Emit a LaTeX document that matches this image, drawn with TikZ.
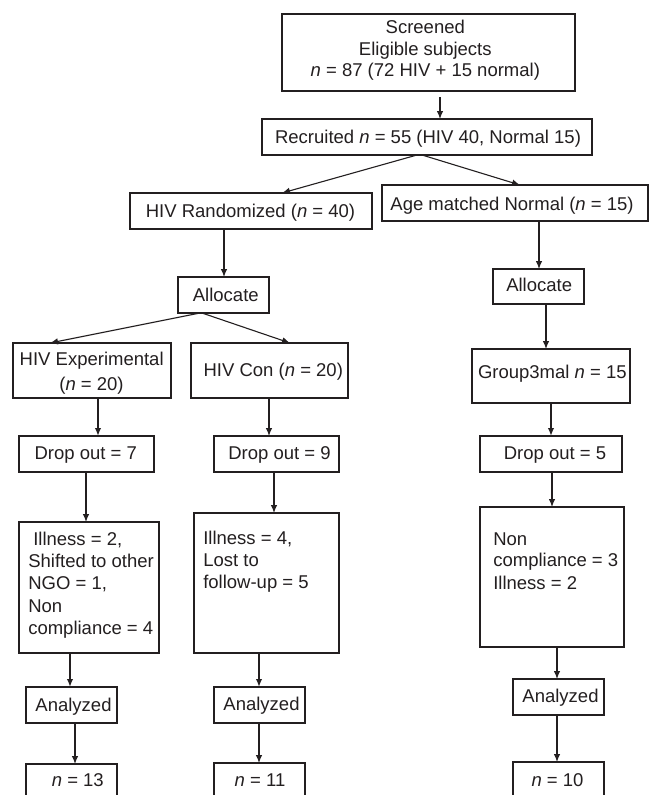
\documentclass[tikz,border=0pt]{standalone}
\usepackage{fontspec}
\setmainfont{Liberation Sans}
\usetikzlibrary{arrows.meta}
\definecolor{ink}{HTML}{231F20}
\newcommand\fs{\fontsize{18.5}{21.7}\selectfont}
\tikzset{
  boxst/.style={draw=ink, line width=1.2pt, inner sep=0pt, outer sep=0pt, anchor=north west},
  arr/.style={-{Latex[length=8pt,width=6.5pt]}, draw=ink, line width=1.1pt},
  thk/.style={line width=1.8pt},
  tc/.style={inner sep=0pt, outer sep=0pt, text=ink, font=\fs, anchor=base},
  tl/.style={inner sep=0pt, outer sep=0pt, text=ink, font=\fs, anchor=base west}
}
\begin{document}
\begin{tikzpicture}[x=1pt, y=-1pt]
\useasboundingbox (0,0) rectangle (649,795);
\clip (0,0) rectangle (649,795);
\fill[white] (0,0) rectangle (649,795);
% boxes
\node[boxst, minimum width=293pt, minimum height=77pt] (scr) at (282,14) {};
\node[boxst, minimum width=330pt, minimum height=36pt] (rec) at (262,119) {};
\node[boxst, minimum width=242pt, minimum height=36pt] (rand) at (130,193) {};
\node[boxst, minimum width=266pt, minimum height=36pt] (age) at (382,185) {};
\node[boxst, minimum width=91pt, minimum height=36pt] (allocL) at (178,277) {};
\node[boxst, minimum width=91pt, minimum height=35pt] (allocR) at (493,269) {};
\node[boxst, minimum width=158pt, minimum height=55pt] (exp) at (13,343) {};
\node[boxst, minimum width=157pt, minimum height=55pt] (con) at (191,343) {};
\node[boxst, minimum width=158pt, minimum height=54pt] (grp) at (472,349) {};
\node[boxst, minimum width=135pt, minimum height=36pt] (d7) at (19,436) {};
\node[boxst, minimum width=125pt, minimum height=36pt] (d9) at (214,436) {};
\node[boxst, minimum width=142pt, minimum height=36pt] (d5) at (480,436) {};
\node[boxst, minimum width=140pt, minimum height=131pt] (ill2) at (19,522) {};
\node[boxst, minimum width=145pt, minimum height=140pt] (ill4) at (194,513) {};
\node[boxst, minimum width=144pt, minimum height=140pt] (nc) at (480,507) {};
\node[boxst, minimum width=91pt, minimum height=36pt] (anL) at (26,687) {};
\node[boxst, minimum width=91pt, minimum height=36pt] (anM) at (214,687) {};
\node[boxst, minimum width=91pt, minimum height=36pt] (anR) at (513,679) {};
\node[boxst, minimum width=91pt, minimum height=42pt] (nL) at (26,764) {};
\node[boxst, minimum width=91pt, minimum height=42pt] (nM) at (214,763) {};
\node[boxst, minimum width=91pt, minimum height=42pt] (nR) at (513,762) {};
% texts
\node[tc] (t1a) at (425.3,33.3) {Screened};
\node[tc] (t1b) at (425.3,55) {Eligible subjects};
\node[tc] (t1c) at (425.3,76.7) {\textit{n} = 87 (72 HIV + 15 normal)};
\node[tc] (t2) at (428,143.3) {Recruited \textit{n} = 55 (HIV 40, Normal 15)};
\node[tc] (t3) at (250.5,217.7) {HIV Randomized (\textit{n} = 40)};
\node[tc] (t4) at (512,210) {Age matched Normal (\textit{n} = 15)};
\node[tc] (t5) at (225.8,301.5) {Allocate};
\node[tc] (t6) at (539.2,291.5) {Allocate};
\node[tc] (t7a) at (91.7,365.7) {HIV Experimental};
\node[tc] (t7b) at (91.5,390) {(\textit{n} = 20)};
\node[tc] (t8) at (273.3,376.7) {HIV Con (\textit{n} = 20)};
\node[tc] (t9) at (552.3,378) {Group3mal \textit{n} = 15};
\node[tc] (t10) at (85.8,459) {Drop out = 7};
\node[tc] (t11) at (279.5,459) {Drop out = 9};
\node[tc] (t12) at (555,459.5) {Drop out = 5};
\node[tl] (t13a) at (33.3,545) {Illness = 2,};
\node[tl] (t13b) at (28.3,567) {Shifted to other};
\node[tl] (t13c) at (28.3,589) {NGO = 1,};
\node[tl] (t13d) at (28.3,612) {Non};
\node[tl] (t13e) at (28.3,634) {compliance = 4};
\node[tl] (t14a) at (203.3,544.5) {Illness = 4,};
\node[tl] (t14b) at (203.3,566.5) {Lost to};
\node[tl] (t14c) at (203.3,588.3) {follow-up = 5};
\node[tl] (t15a) at (493.3,545) {Non};
\node[tl] (t15b) at (493.3,566.8) {compliance = 3};
\node[tl] (t15c) at (493.3,589.3) {Illness = 2};
\node[tc] (t16) at (73.5,711) {Analyzed};
\node[tc] (t17) at (261.5,710.5) {Analyzed};
\node[tc] (t18) at (560.5,702.5) {Analyzed};
\node[tc] (t19) at (77.8,786.5) {\textit{n} = 13};
\node[tc] (t20) at (260,786) {\textit{n} = 11};
\node[tc] (t21) at (557.5,786.5) {\textit{n} = 10};
% connectors
\draw[arr] ([shift={(158,6)}]scr.south west) -- ([shift={(178,0)}]rec.north west);
\draw[arr] ([shift={(155,0)}]rec.south west) -- ([shift={(152,0)}]rand.north west);
\draw[arr] ([shift={(160,0)}]rec.south west) -- ([shift={(138,0)}]age.north west);
\draw[arr] ([shift={(94,0)}]rand.south west) -- ([shift={(94,0)}]rand.south west |- allocL.north);
\draw[arr] ([shift={(157,0)}]age.south west) -- ([shift={(157,0)}]age.south west |- allocR.north);
\draw[arr] ([shift={(22,0)}]allocL.south west) -- ([shift={(37,0)}]exp.north west);
\draw[arr] ([shift={(24,0)}]allocL.south west) -- ([shift={(99,0)}]con.north west);
\draw[arr] ([shift={(53,0)}]allocR.south west) -- ([shift={(53,0)}]allocR.south west |- grp.north);
\draw[arr,thk] ([shift={(85,0)}]exp.south west) -- ([shift={(85,0)}]exp.south west |- d7.north);
\draw[arr] ([shift={(78,0)}]con.south west) -- ([shift={(78,0)}]con.south west |- d9.north);
\draw[arr,thk] ([shift={(79,0)}]grp.south west) -- ([shift={(79,0)}]grp.south west |- d5.north);
\draw[arr] ([shift={(67,0)}]d7.south west) -- ([shift={(67,0)}]d7.south west |- ill2.north);
\draw[arr] ([shift={(60,0)}]d9.south west) -- ([shift={(60,0)}]d9.south west |- ill4.north);
\draw[arr] ([shift={(72,0)}]d5.south west) -- ([shift={(72,0)}]d5.south west |- nc.north);
\draw[arr,thk] ([shift={(51,0)}]ill2.south west) -- ([shift={(51,0)}]ill2.south west |- anL.north);
\draw[arr,thk] ([shift={(65,0)}]ill4.south west) -- ([shift={(65,0)}]ill4.south west |- anM.north);
\draw[arr] ([shift={(77,0)}]nc.south west) -- ([shift={(77,0)}]nc.south west |- anR.north);
\draw[arr] ([shift={(49,0)}]anL.south west) -- ([shift={(49,0)}]anL.south west |- nL.north);
\draw[arr] ([shift={(45,0)}]anM.south west) -- ([shift={(45,0)}]anM.south west |- nM.north);
\draw[arr] ([shift={(44,0)}]anR.south west) -- ([shift={(44,0)}]anR.south west |- nR.north);
\end{tikzpicture}
\end{document}
